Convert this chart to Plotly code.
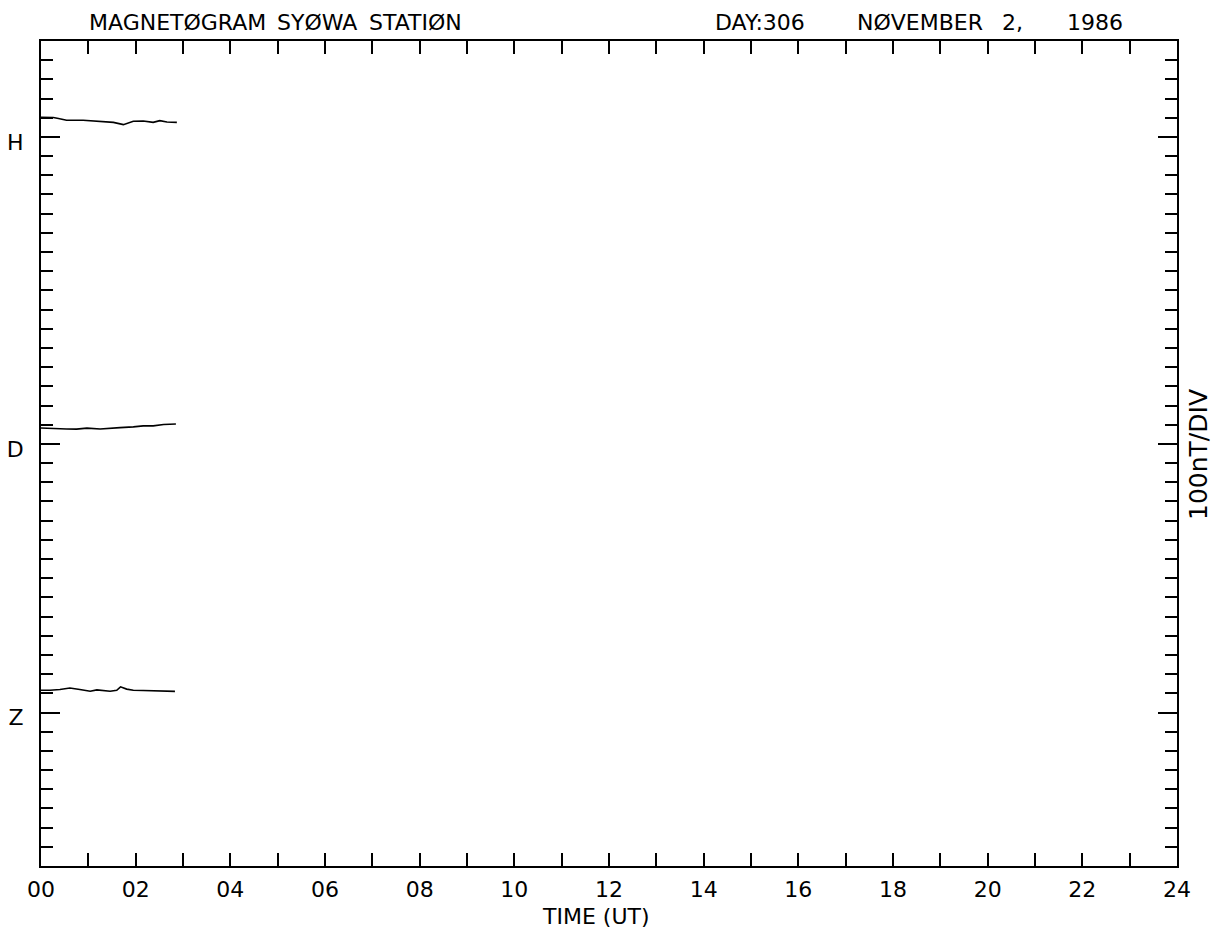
import plotly.graph_objects as go

# ---------------- data ----------------
# time in hours (UT), field values in nT (axis: 100 nT per division)
h_time = [0, 0.26, 0.37, 0.54, 0.89, 1.25, 1.53, 1.74, 1.85, 1.95, 2.16, 2.37, 2.51, 2.66, 2.87]
h_val = [3902, 3901, 3896, 3887, 3887, 3883, 3876, 3864, 3873, 3882, 3883, 3876, 3885, 3878, 3876]

d_time = [0, 0.19, 0.54, 0.75, 0.97, 1.25, 1.46, 1.67, 1.95, 2.16, 2.37, 2.59, 2.85]
d_val = [2283, 2280, 2278, 2277, 2282, 2278, 2280, 2285, 2289, 2294, 2294, 2301, 2304]

z_time = [0, 0.19, 0.40, 0.61, 0.82, 1.04, 1.18, 1.32, 1.46, 1.60, 1.68, 1.81, 1.95, 2.16, 2.37, 2.59, 2.83]
z_val = [916, 916, 920, 928, 920, 911, 918, 916, 911, 916, 934, 922, 916, 915, 913, 910, 910]

component_labels = ["H", "D", "Z"]
component_base = [3800, 2200, 800]

hour_ticks = list(range(0, 25, 2))
hour_labels = [f"{h:02d}" for h in hour_ticks]
minor_hours = list(range(1, 24, 2))
div_ticks = list(range(100, 4300, 100))

FONT = "DejaVu Sans"
W, H = 1219, 935
L, R, T, B = 41, 1177, 41, 866   # plot area in pixels


def px(x):
    return (x - L) / (R - L)


def py(y):
    return (B - y) / (B - T)


fig = go.Figure()
for t, v in [(h_time, h_val), (d_time, d_val), (z_time, z_val)]:
    fig.add_trace(go.Scatter(x=t, y=v, mode="lines",
                             line=dict(color="black", width=1.6),
                             showlegend=False, hoverinfo="skip"))

annots = []
title_words = [("MAGNETØGRAM", 87), ("SYØWA", 275), ("STATIØN", 367),
               ("DAY:306", 713), ("NØVEMBER", 855), ("2,", 1000), ("1986", 1065)]
for txt, x in title_words:
    annots.append(dict(text=txt, x=px(x), y=py(22), xref="paper", yref="paper",
                       xanchor="left", yanchor="middle", showarrow=False,
                       font=dict(family=FONT, size=22, color="black")))
annots.append(dict(text="100nT/DIV", x=px(1198), y=py(455), xref="paper", yref="paper",
                   xanchor="center", yanchor="middle", showarrow=False, textangle=-90,
                   font=dict(family=FONT, size=25, color="black")))
annots.append(dict(text="TIME (UT)", x=px(596), y=py(916), xref="paper", yref="paper",
                   xanchor="center", yanchor="middle", showarrow=False,
                   font=dict(family=FONT, size=22, color="black")))

fig.update_layout(
    width=W, height=H,
    margin=dict(l=L, r=W - R, t=T, b=H - B),
    paper_bgcolor="white", plot_bgcolor="white",
    annotations=annots,
    xaxis=dict(
        range=[0, 24], showgrid=False, zeroline=False, automargin=False,
        showline=True, linewidth=2, linecolor="black", mirror="ticks",
        ticks="inside", ticklen=13, tickwidth=2, tickcolor="black",
        tickmode="array", tickvals=hour_ticks, ticktext=hour_labels,
        tickfont=dict(family=FONT, size=22, color="black"),
        ticklabelstandoff=3,
        minor=dict(tickmode="array", tickvals=minor_hours, ticks="inside",
                   ticklen=13, tickwidth=2, tickcolor="black", showgrid=False),
    ),
    yaxis=dict(
        range=[0, 4300], showgrid=False, zeroline=False, automargin=False,
        showline=True, linewidth=2, linecolor="black", mirror="ticks",
        ticks="inside", ticklen=19, tickwidth=2, tickcolor="black",
        tickmode="array", tickvals=component_base, ticktext=component_labels,
        tickfont=dict(family=FONT, size=22, color="black"),
        ticklabelstandoff=11, ticklabelshift=5,
        minor=dict(tickmode="array", tickvals=div_ticks, ticks="inside",
                   ticklen=12, tickwidth=2, tickcolor="black", showgrid=False),
    ),
)

fig.write_html("out.html",
               config={"displayModeBar": False},
               post_script="document.body.style.margin='0px';document.body.style.padding='0px';")
